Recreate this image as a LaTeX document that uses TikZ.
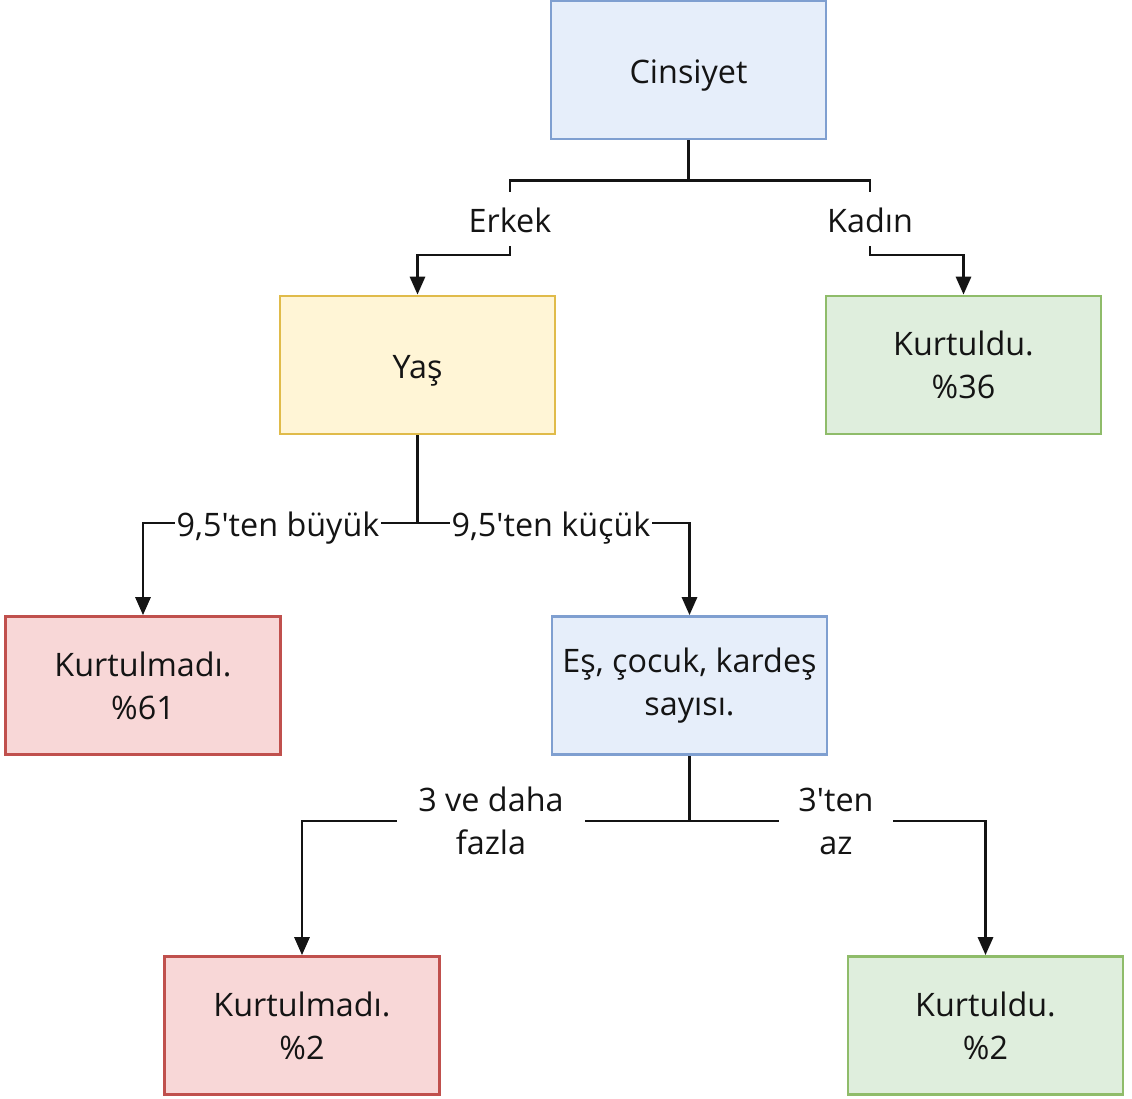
\documentclass[tikz,border=0pt]{standalone}
\usepackage{fontspec}
\setmainfont{Open Sans}[Ligatures=TeXOff]
\usetikzlibrary{arrows.meta,backgrounds}

\definecolor{bluefill}{HTML}{E6EEFA}
\definecolor{bluedraw}{HTML}{7F9FD0}
\definecolor{yellowfill}{HTML}{FFF5D6}
\definecolor{yellowdraw}{HTML}{E0BB4A}
\definecolor{greenfill}{HTML}{DFEEDD}
\definecolor{greendraw}{HTML}{8FBC6A}
\definecolor{redfill}{HTML}{F8D7D7}
\definecolor{reddraw}{HTML}{C0504D}
\definecolor{ink}{HTML}{141414}

\tikzset{
  box/.style={draw, line width=2pt, minimum width=6.875cm, minimum height=3.45cm,
    align=center, text=ink, font=\fontsize{23}{30.5}\selectfont},
  bluebox/.style={box, fill=bluefill, draw=bluedraw},
  yellowbox/.style={box, fill=yellowfill, draw=yellowdraw},
  greenbox/.style={box, fill=greenfill, draw=greendraw},
  redbox/.style={box, fill=redfill, draw=reddraw},
  cond/.style={fill=white, align=center, text=ink, inner sep=1pt,
    font=\fontsize{23}{30.5}\selectfont},
  oneline/.style={text height=23pt, text depth=3.5pt},
  arr/.style={draw=ink, line width=1.8pt, -{Triangle[length=0.45cm, width=0.38cm]}}
}

\begin{document}
\begin{tikzpicture}[x=0.025cm, y=-0.025cm]
  \useasboundingbox (0,0) rectangle (1132,1099);

  % kutular
  \node[bluebox, oneline] (cins) at (688.5,70) {Cinsiyet};
  \node[yellowbox, oneline] (yas) at (417.5,365) {Yaş};
  \node[greenbox] (k36) at (963.5,365) {Kurtuldu.\\\%36};
  \node[redbox] (k61) at (143,685.5) {Kurtulmadı.\\\%61};
  \node[bluebox] (es) at (689.5,685.5) {Eş, çocuk, kardeş\\sayısı.};
  \node[redbox] (k2a) at (302,1025.5) {Kurtulmadı.\\\%2};
  \node[greenbox] (k2b) at (985.5,1025.5) {Kurtuldu.\\\%2};

  % kosullar
  \node[cond, oneline, minimum height=1.325cm] (erkek) at (510,219) {Erkek};
  \node[cond, oneline, minimum height=1.325cm] (kadin) at (870,219) {Kadın};
  \node[cond, oneline] (buyuk) at (278,523) {9,5'ten büyük};
  \node[cond, oneline] (kucuk) at (551,523) {9,5'ten küçük};
  \node[cond, minimum width=4.7cm] (fazla) at (491,821) {3 ve daha\\fazla};
  \node[cond, minimum width=2.825cm] (az) at (836,821) {3'ten\\az};

  % oklar
  \begin{scope}[on background layer]
    \draw[arr] (cins.south) -- ++(0,40) -| (erkek) -- ++(0,36) -| (yas.north);
    \draw[arr] (cins.south) -- ++(0,40) -| (kadin) -- ++(0,36) -| (k36.north);
    \draw[arr] (yas.south) |- (buyuk) -| (k61.north);
    \draw[arr] (yas.south) |- (kucuk) -| (es.north);
    \draw[arr] (es.south) |- (fazla) -| (k2a.north);
    \draw[arr] (es.south) |- (az) -| (k2b.north);
  \end{scope}
\end{tikzpicture}
\end{document}
